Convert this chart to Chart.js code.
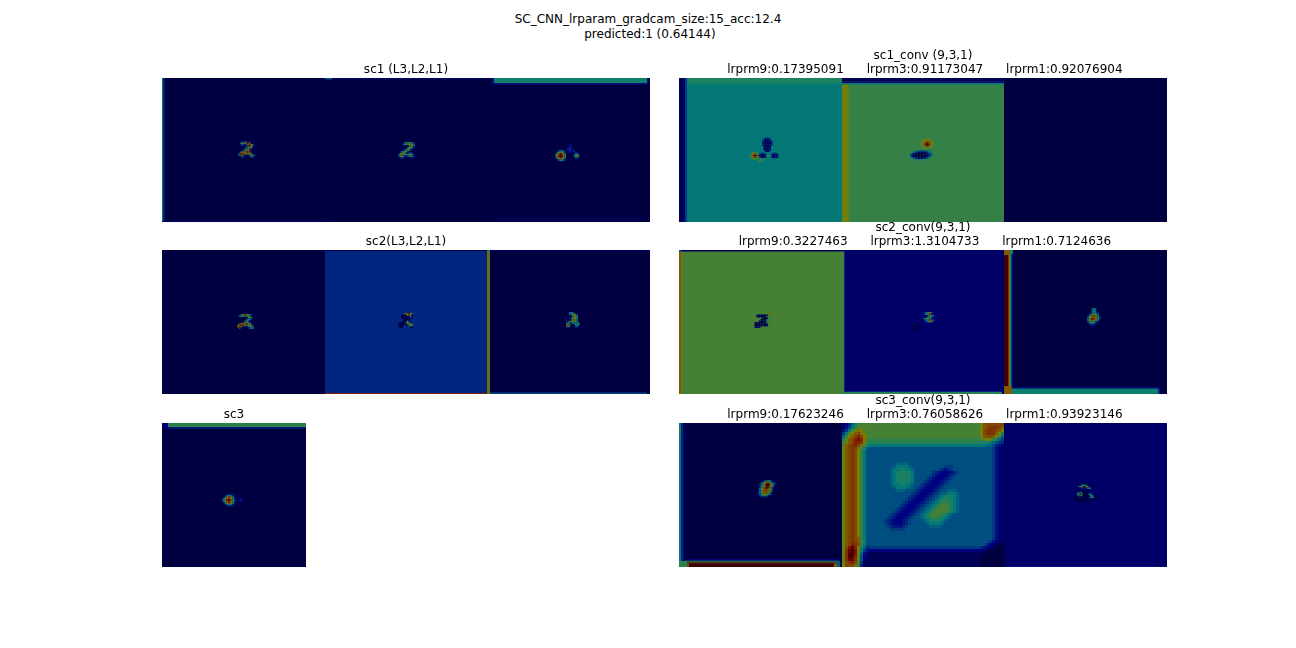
<!DOCTYPE html>
<html>
<head>
<meta charset="utf-8">
<title>SC_CNN_lrparam_gradcam</title>
<script src="https://cdn.jsdelivr.net/npm/chart.js@4"></script>
<style>
  html, body { margin: 0; background: #fff; }
  #page { position: relative; width: 1296px; height: 648px; overflow: hidden; }
  #suptitle { position: absolute; left: 0; top: 12px; width: 1296px; text-align: center;
              font: 12px/15px "DejaVu Sans", sans-serif; color: #000; }
  canvas { position: absolute; }
</style>
</head>
<body>
<div id="page">
  <div id="suptitle">SC_CNN_lrparam_gradcam_size:15_acc:12.4<br>&nbsp;predicted:1 (0.64144)</div>
</div>
<script>
// flat areas of each heatmap: [x0, y0, x1, y1, value], painted in order
var sc1a_regions = [[0,0,163,144,0],[0,0,1.5,144,.36],[1.5,0,3,144,.16],[0,143,161,144,.07]];
var sc1b_regions = [[163,0,325,144,0],[163,0,323,1,.08],[163,0,170,1.5,.3],[163,1,164.5,144,.025],[163,142,168,144,.05]];
var sc1c_regions = [[325,0,488,144,0],[330,0,334,144,.012],[332,138,480,144,.025],[330,0,332,6,.15],[485,0,486,6,.15],[330,5,486,6.5,.16],[332,0,485,5,.39]];
var conv1a_regions = [[0,0,163,144,.36],[0,0,4,144,.02],[4,0,6,144,.1],[6,0,8,144,.24],[8,5,163,6.5,.38],[8,0,163,5,.42]];
var conv1b_regions = [[163,0,325,144,.48],[163,0,169,144,.62],[169,0,171,144,.54],[163,5,325,6.5,.36],[163,3.5,325,5,.12],[163,0,325,3.5,.03]];
var conv1c_regions = [[325,0,488,144,0]];
var sc2a_regions = [[0,0,163,144,0]];
var sc2b_regions = [[163,0,325,144,.2],[163,0,325,1,.02],[163,143,325,144,.84],[325,0,327,144,.7],[327,0,328,144,.52],[325,0,328,2,.4]];
var sc2c_regions = [[328,0,488,144,0],[328,0,488,1,.06],[328,142.5,485,144,.26]];
var conv2a_regions = [[0,0,165,144,.52],[0,0,2,144,.72],[2,0,3,144,.6],[0,0,165,1.5,.05],[0,0,2,2,.3]];
var conv2b_regions = [[165,0,325,144,.07],[165,0,166,144,.2],[165,141,323,142,.2],[165,142,323,144,.44],[232,73,241,80,.03]];
var conv2c_regions = [[325,0,488,144,0],[333,0,334.5,144,.1],[332,0,333,144,.25],[331,0,332,144,.42],[330,0,331,144,.6],[329,0,330,144,.8],[325,0,329,144,1],
  [331,0,334,4,.4],[325,0,331,5,.72],[333,137,481,138.5,.14],[479,138.5,481,144,.2],[333,138.5,479,144,.38],[325,136,333,144,.72]];
var sc3_regions = [[0,0,144,144,0],[0,0,3,6,.05],[3,0,6,6,.12],[6,4,144,5.5,.18],[6,0,144,4,.46]];
var conv3a_regions = [[0,0,163,144,0],[4,0,6,144,.07],[2,0,4,144,.2],[0,0,2,144,.36],[0,6,2,11,.45],[6,136,160,137.5,.1],[6,137.5,160,138.5,.32],[6,138.5,160,139.5,.55],
  [6,139.5,160,140.5,.78],[158,138,161,144,.3],[0,138,8,144,.45],[8,140.5,10,144,.75],[155,140.5,158,144,.7],[10,140.5,155,144,1]];
var conv3c_regions = [[325,0,488,144,.07],[325,0,326,144,.03],[325,143,488,144,.16],[325,0,488,.5,.04]];

// fine cells, one letter per cell: a = 0 ... z = 1, '.' = nothing
var sc1a_cells = [
  "..ceeieec...",
  ".ciqmmuwqe..",
  "..eieeiswqi.",
  "......eiwqi.",
  ".....eimsqe.",
  "....eimsie..",
  "...eimuqe...",
  ".ciqssuwqe..",
  ".iuwuqkqsqe.",
  ".iuuie.eimsie",
  ".ceie...eiie"];
var sc1b_cells = [
  "....eikmkkie.",
  "...eimqmqsmi",
  "....ee..iqmi",
  ".......imqie",
  ".....eimqie.",
  "....eimqie..",
  "..eimqme....",
  ".eiqqkeeiie.",
  ".iqukmmmmqie",
  ".iqmieeiikie",
  "..eie....ee."];
var sc1c_cells = [
  "..........cc......",
  ".........cde......",
  ".........dee......",
  "........deged.....",
  "...cee..efgfe.....",
  "..eikkie.deedgd...",
  ".ekqsqke..dc.dfe..",
  ".kquxuqk.....ekme.",
  ".msxzxsm.....kmqk.",
  ".kquxuqk.....ekme.",
  ".ekqsqke......ee..",
  "..eikkie..........",
  "...cee............"];
var conv1a_cells = [
  "............hgh.....",
  "...........fdcdf....",
  "..........gcbabch...",
  "..........ecaaace...",
  "..........ecaaace...",
  "..........gcbabcg...",
  "...........dbabd....",
  "...........dbabd....",
  "...........dbabd....",
  "............cbc.....",
  "...lnql..ihi.....ihi.",
  "..lqsvqlgcbcg...fcbcf",
  "..ntxzxtdaaadlmlfbabf",
  "..lqsvqlgcbcg...fcbcf",
  "...lnql.lmml.....ii..",
  ".......lnnl..........",
  "........ll..........."];
var conv1b_cells = [
  "............nop.....",
  "..........npqrqpn...",
  ".........npqstsrpn..",
  ".........oqsvxvsqo..",
  ".........oqtxzxtqo..",
  ".........npqtvtqpn..",
  "..........nopqpon...",
  "....................",
  ".....kjjjihiijjk....",
  "...kihfdcbbcdfijk...",
  "..jgdcbaaaaabcfgik..",
  "..hdbaaaaaaaabdgil..",
  "..jecbaaaaabcdgik...",
  "...jifecccdefhjl....",
  ".....lkjjkkll......."];
var sc2a_cells = [
  "..eiqsuqkie.",
  ".eimkiimqi..",
  "........mqi.",
  ".......ikie.",
  "......ikie..",
  "....eikqie..",
  "..iqusswqqe.",
  ".quwuqikqmi.",
  ".qwqe..eimqi",
  "..ie....eiki"];
var sc2b_cells = [
  "....kquwqk.",
  "..baaeqwqa.",
  "..aaaaaeka.",
  "..baaaaba..",
  "....aaab...",
  "...aaaka...",
  ".aaabkqqa..",
  "aaaabakuqm",
  "aaabg.akmk",
  ".aa.....aa"];
var sc2c_cells = [
  "...eikke...",
  "....ikmqi..",
  "......kqqk.",
  "..e..ekmqk.",
  ".e...ikqqk.",
  ".ee.ewsqki.",
  "...ikqmkkk.",
  "..ikiekkkkk",
  "..qui..ekkk",
  "..sqi...ike",
  "..ee....ee."];
var conv2a_cells = [
  "........mqtq",
  "..gbaaaaedqk",
  "..gbaaaaak..",
  "......baaak.",
  ".....caae...",
  "....caaae...",
  ".ebaaaaaek..",
  ".baaaaaaabms",
  ".aaaaagbaek.",
  ".ebbe......."];
var conv2b_cells = [
  "...eikqmie.",
  "...ekmsue..",
  "......ikqk.",
  "...ecikmie.",
  "..ekkqske..",
  "..ceiksukie",
  "....eikqse.",
  ".......ee.."];
var conv2c_cells = [
  ".....ikie..",
  ".....ikke..",
  ".....ikke..",
  "....eikkie.",
  "...ekmqqki.",
  "..ekqsusmk.",
  "..ikqsuqmki",
  "..imswusmke",
  "..ikqsqmki.",
  "..ekmmkie..",
  "...eikie...",
  "....eee....",
  "....dd....."];
var sc3_cells = [
  "..............",
  "...eeee.......",
  "..eikkie.cc...",
  ".ekqssqke.c...",
  "ekqswsqke..cdc",
  "ikswzwski..dgd",
  "ekqswsqke..cdc",
  ".ekqssqke.....",
  "..eikkie......",
  "...eeee......."];
var conv3a_cells = [
  ".....eiikie...",
  "...eikqsqkiee.",
  "...ikqsxzsqkie",
  "..eikqwzzsqke.",
  "..eikqszxsqi..",
  "..ikqsxwskie..",
  "..ikqstssqk...",
  ".eikqssssqi...",
  ".eikqsssqke...",
  ".eikqqqqkie...",
  "..eikkkie.....",
  "...eee......."];
var conv3b_cells = [
  "cdfikm nnnnnnnnnn nnnnnnnnnn nnnnnnnnnn nnnnnnnnnn pstttttt",
  "cegjlo oonnnnnnnn nnnnnnnnnn nnnnnnnnnn nnnnnnnnnn pstuuuts",
  "egjnpr qonnnnnnnn nnnnnnnnnn nnnnnnnnnn nnnnnnnnnn qtuuutsq",
  "gjnqst rpnnnnnnnn nnnnnnnnnn nnnnnnnnnn nnnnnnnnnn qtuuusql",
  "imqstv tqonnnnnnn nnnnnnnnnn nnnnnnnnnn nnnnnnnnnn psttsqmi",
  "lpstvw vrnmmmmmmm mmmmmmmmmm mmmmmmmmmm mmmmmmmmmm npqpmkig",
  "npstvv uqmlllllll llllllllll llllllllll llllllllll kkkjihgf",
  "ostuvt rnkjjjjjjj jjjjjjjjjj jjjjjjjjjj jjjjjjjjjj jjiihfed",
  "pstutr nkihhhhhhh hhhhhhhhhh hhhhhhhhhh hhhhhhhhhh hhhhgecc",
  "pstutq mjhhhhhhhh hhhhhhhhhh hhhhhhhhhh hhhhhhhhhh hhhhgecc",
  "pstutq mjhhhhhhhh hhhhhhhhhh hhhhhhhhhh hhhhhhhhhh hhhhgecc",
  "pstutq mjhhhhhhhh hhhhhhhhhh hhhhhhhhhh hhhhhhhhhh hhhhgecc",
  "pstutq mjhhhhhhhh hhhhhhhhhh hhhhhhhhhh hhhhhhhhhh hhhhgecc",
  "pstutq mjhhhhhhhh hhiiiihhhh hhhhhhhhhh hhhhhhhhhh hhhhgecc",
  "pstutq mjhhhhhhhh hijjjjihhh hhhhhhhhgg ghhhhhhhhh hhhhgecc",
  "pstutq mjhhhhhhhh ijjkkjjihh hhhhhhgfef ghhhhhhhhh hhhhgecc",
  "pstutq mjhhhhhhhh ijkkkkkjhh hhhhgfeddd efghhhhhhh hhhhgecc",
  "pstutq mjhhhhhhhh ijkklkkjhh hhhgfeddde fghhhhhhhh hhhhgecc",
  "pstutq mjhhhhhhhh ijkklkkjhh hhgfedddef ghhhhhhhhh hhhhgecc",
  "pstutq mjhhhhhhhh ijkkkkkjhh hgfedddefg hhhhhhhhhh hhhhgecc",
  "pstutq mjhhhhhhhh ijjkkjjihh gfedddefgh hhhhhhhhhh hhhhgecc",
  "pstutq mjhhhhhhhh hijjjjihhg fedddefghh hhhhhhhhhh hhhhgecc",
  "pstutq mjhhhhhhhh hhiiihhhgf edddefghhi iihhhhhhhh hhhhgecc",
  "pstutq mjhhhhhhhh hhhhhhhgfe dddefghiij jjihhhhhhh hhhhgecc",
  "pstutq mjhhhhhhhh hhhhhhgfed ddefghijkk kjihhhhhhh hhhhgecc",
  "pstutq mjhhhhhhhh hhhhhgfedd defghijklk kjihhhhhhh hhhhgecc",
  "pstutq mjhhhhhhhh hhhhgfeddd efghijkmmm kjihhhhhhh hhhhgecc",
  "pstutq mjhhhhhhhh hhhgfeddde fghijkmnnm kjihhhhhhh hhhhgecc",
  "pstutq mjhhhhhhhh hhgfedddef ghijkmnnnm kjihhhhhhh hhhhgecc",
  "pstutq mjhhhhhhhh hgfedddefg hijkmnnnnm kjihhhhhhh hhhhgecc",
  "pstutq mjhhhhhhhh gfedddefgh ijkmnnnmkj ihhhhhhhhh hhhhgecc",
  "pstutq mjhhhhhhhg fedddefghh ijklmmlkji hhhhhhhhhh hhhhgecc",
  "pstutq mjhhhhhhgf edddefghhh hijkkkkjih hhhhhhhhhh hhhhgecc",
  "pstutq mjhhhhhhgf edddefghhh hhijjjjihh hhhhhhhhhh hhhhgecc",
  "pstutq mjhhhhhhhg feeefghhhh hhhiiiihhh hhhhhhhhhh hhhhgecc",
  "pstutq mjhhhhhhhh ggggghhhhh hhhhhhhhhh hhhhhhhhhh hhhhgecc",
  "pstutq mjhhhhhhhh hhhhhhhhhh hhhhhhhhhh hhhhhhhhhh hhhhgecc",
  "pstutq mjhhhhhhhh hhhhhhhhhh hhhhhhhhhh hhhhhhhhhh hhhhgecc",
  "pstuts mjhhhhhhhh hhhhhhhhhh hhhhhhhhhh hhhhhhhhhh hhhhgecc",
  "pstuts nkhhhhhhhh hhhhhhhhhh hhhhhhhhhh hhhhhhhhhh hhhgedcb",
  "pstvut mjhhhhhhhh hhhhhhhhhh hhhhhhhhhh hhhhhhhhhh hhfdcbab",
  "ptwyvq kifggggggg gggggggggg gggggggggg gggggggggg fedcbaaa",
  "puxzwq jgeddddddd dddddddddd dddddddddd dddddddddd ccbaaaaa",
  "puyzwp iecbbbbbbb bbbbbbbbbb bbbbbbbbbb bbbbbbbbbb bbaaaaaa",
  "puzyvo hdbbbbbbbb bbbbbbbbbb bbbbbbbbbb bbbbbbbbbb aaaaaaaa",
  "puxxuo hdbbbbbbbb bbbbbbbbbb bbbbbbbbbb bbbbbbbbbb aaaaaaaa",
  "ptuvtn gbbbbbbbbb bbbbbbbbbb bbbbbbbbbb bbbbbbbbbb aaaaaaaa",
  "qtttrm fbbbbbbbbb bbbbbbbbbb bbbbbbbbbb bbbbbbbbbb aaaaaaaa"];
var conv3c_cells = [
  "......aaaaa......",
  "....aeikkiebaa...",
  "....ikquzqkeaab..",
  "....aaeeeeikia...",
  "..........aa.....",
  "...aacaaaaa......",
  "..aeikiaaaaaee...",
  "..aiqzqeaaaikeaa.",
  "..aeikiaaaaakmeaa",
  ".aaaaaaaaaaeiqia.",
  ".aaaaaaaaaaaeeaa.",
  "..aaaaaaaaaaaa...",
  "....aaa.aaaa....."];

// subplot titles
var sc1_title = ["sc1 (L3,L2,L1)"];
var conv1_title = ["sc1_conv (9,3,1)", " lrprm9:0.17395091      lrprm3:0.91173047      lrprm1:0.92076904"];
var sc2_title = ["sc2(L3,L2,L1)"];
var conv2_title = ["sc2_conv(9,3,1)", " lrprm9:0.3227463      lrprm3:1.3104733      lrprm1:0.7124636"];
var sc3_title = ["sc3"];
var conv3_title = ["sc3_conv(9,3,1)", " lrprm9:0.17623246      lrprm3:0.76058626      lrprm1:0.93923146"];

var panels = [
  {left: 162, top: 78, width: 488, title: sc1_title, images: [
    {regions: sc1a_regions, cells: sc1a_cells, at: [75, 63], size: 1.5},
    {regions: sc1b_regions, cells: sc1b_cells, at: [235, 64], size: 1.5},
    {regions: sc1c_regions, cells: sc1c_cells, at: [392, 65], size: 1.5}]},
  {left: 679, top: 78, width: 488, title: conv1_title, images: [
    {regions: conv1a_regions, cells: conv1a_cells, at: [68, 59], size: 1.5},
    {regions: conv1b_regions, cells: conv1b_cells, at: [228, 60], size: 1.5},
    {regions: conv1c_regions}]},
  {left: 162, top: 250, width: 488, title: sc2_title, images: [
    {regions: sc2a_regions, cells: sc2a_cells, at: [74, 64], size: 1.5},
    {regions: sc2b_regions, cells: sc2b_cells, at: [236, 63], size: 1.5},
    {regions: sc2c_regions, cells: sc2c_cells, at: [401, 62], size: 1.5}]},
  {left: 679, top: 250, width: 488, title: conv2_title, images: [
    {regions: conv2a_regions, cells: conv2a_cells, at: [74, 63], size: 1.5},
    {regions: conv2b_regions, cells: conv2b_cells, at: [240, 62], size: 1.5},
    {regions: conv2c_regions, cells: conv2c_cells, at: [405, 58], size: 1.5}]},
  {left: 162, top: 423, width: 144, title: sc3_title, images: [
    {regions: sc3_regions, cells: sc3_cells, at: [60, 69], size: 1.5}]},
  {left: 679, top: 423, width: 488, title: conv3_title, images: [
    {regions: conv3a_regions, cells: conv3a_cells, at: [77, 57], size: 1.5},
    {regions: [], cells: conv3b_cells, at: [163, 0], size: 3},
    {regions: conv3c_regions, cells: conv3c_cells, at: [393, 60], size: 1.5}]}
];

// jet colormap, dimmed to half because the heatmap sits over a black image
function ramp(v, pts) {
  for (var i = 1; i < pts.length; i++) {
    if (v <= pts[i][0]) {
      var a = pts[i - 1], b = pts[i];
      return a[1] + (b[1] - a[1]) * (v - a[0]) / (b[0] - a[0]);
    }
  }
  return pts[pts.length - 1][1];
}
function jet(v) {
  var r = ramp(v, [[0, 0], [.35, 0], [.66, 1], [.89, 1], [1, .5]]);
  var g = ramp(v, [[0, 0], [.125, 0], [.375, 1], [.64, 1], [.91, 0], [1, 0]]);
  var b = ramp(v, [[0, .5], [.11, 1], [.34, 1], [.65, 0], [1, 0]]);
  return "rgb(" + Math.round(r * 127.5) + "," + Math.round(g * 127.5) + "," + Math.round(b * 127.5) + ")";
}

function regionDataset(reg) {
  return {
    data: [{x: reg[0], y: reg[1]}, {x: reg[2], y: reg[1]}, {x: reg[2], y: reg[3]}, {x: reg[0], y: reg[3]}],
    showLine: true, fill: "shape", tension: 0,
    backgroundColor: jet(reg[4]), borderWidth: 0, pointRadius: 0
  };
}

function cellDataset(rows, at, size) {
  var pts = [], colors = [];
  rows.forEach(function(row, r) {
    row = row.replace(/ /g, "");
    for (var c = 0; c < row.length; c++) {
      if (row[c] === ".") continue;
      pts.push({x: at[0] + (c + .5) * size, y: at[1] + (r + .5) * size});
      colors.push(jet((row.charCodeAt(c) - 97) / 25));
    }
  });
  return {
    data: pts, showLine: false, pointStyle: "rect",
    pointRadius: size / Math.SQRT2 + .06, // rect side is radius * sqrt2
    pointBorderWidth: 0, pointBackgroundColor: colors
  };
}

panels.forEach(function(p) {
  var sets = [regionDataset([0, 0, p.width, 144, 0])];
  p.images.forEach(function(im) {
    im.regions.forEach(function(reg) { sets.push(regionDataset(reg)); });
    if (im.cells) sets.push(cellDataset(im.cells, im.at, im.size));
  });
  // chart.js paints the first dataset last
  sets.reverse();

  var titleH = p.title.length * 14 + 1;
  var canvas = document.createElement("canvas");
  canvas.width = p.width;
  canvas.height = 144 + titleH;
  canvas.style.left = p.left + "px";
  canvas.style.top = (p.top - titleH) + "px";
  document.getElementById("page").appendChild(canvas);

  new Chart(canvas, {
    type: "scatter",
    data: {datasets: sets},
    options: {
      responsive: false,
      animation: false,
      events: [],
      layout: {padding: 0, autoPadding: false},
      plugins: {
        legend: {display: false},
        tooltip: {enabled: false},
        title: {
          display: true, text: p.title, color: "#000",
          padding: {top: 0, bottom: 1},
          font: {family: "'DejaVu Sans'", size: 12, weight: "normal", lineHeight: "14px"}
        }
      },
      scales: {
        x: {type: "linear", display: false, min: 0, max: p.width},
        y: {type: "linear", display: false, min: 0, max: 144, reverse: true}
      }
    }
  });
});
</script>
</body>
</html>
